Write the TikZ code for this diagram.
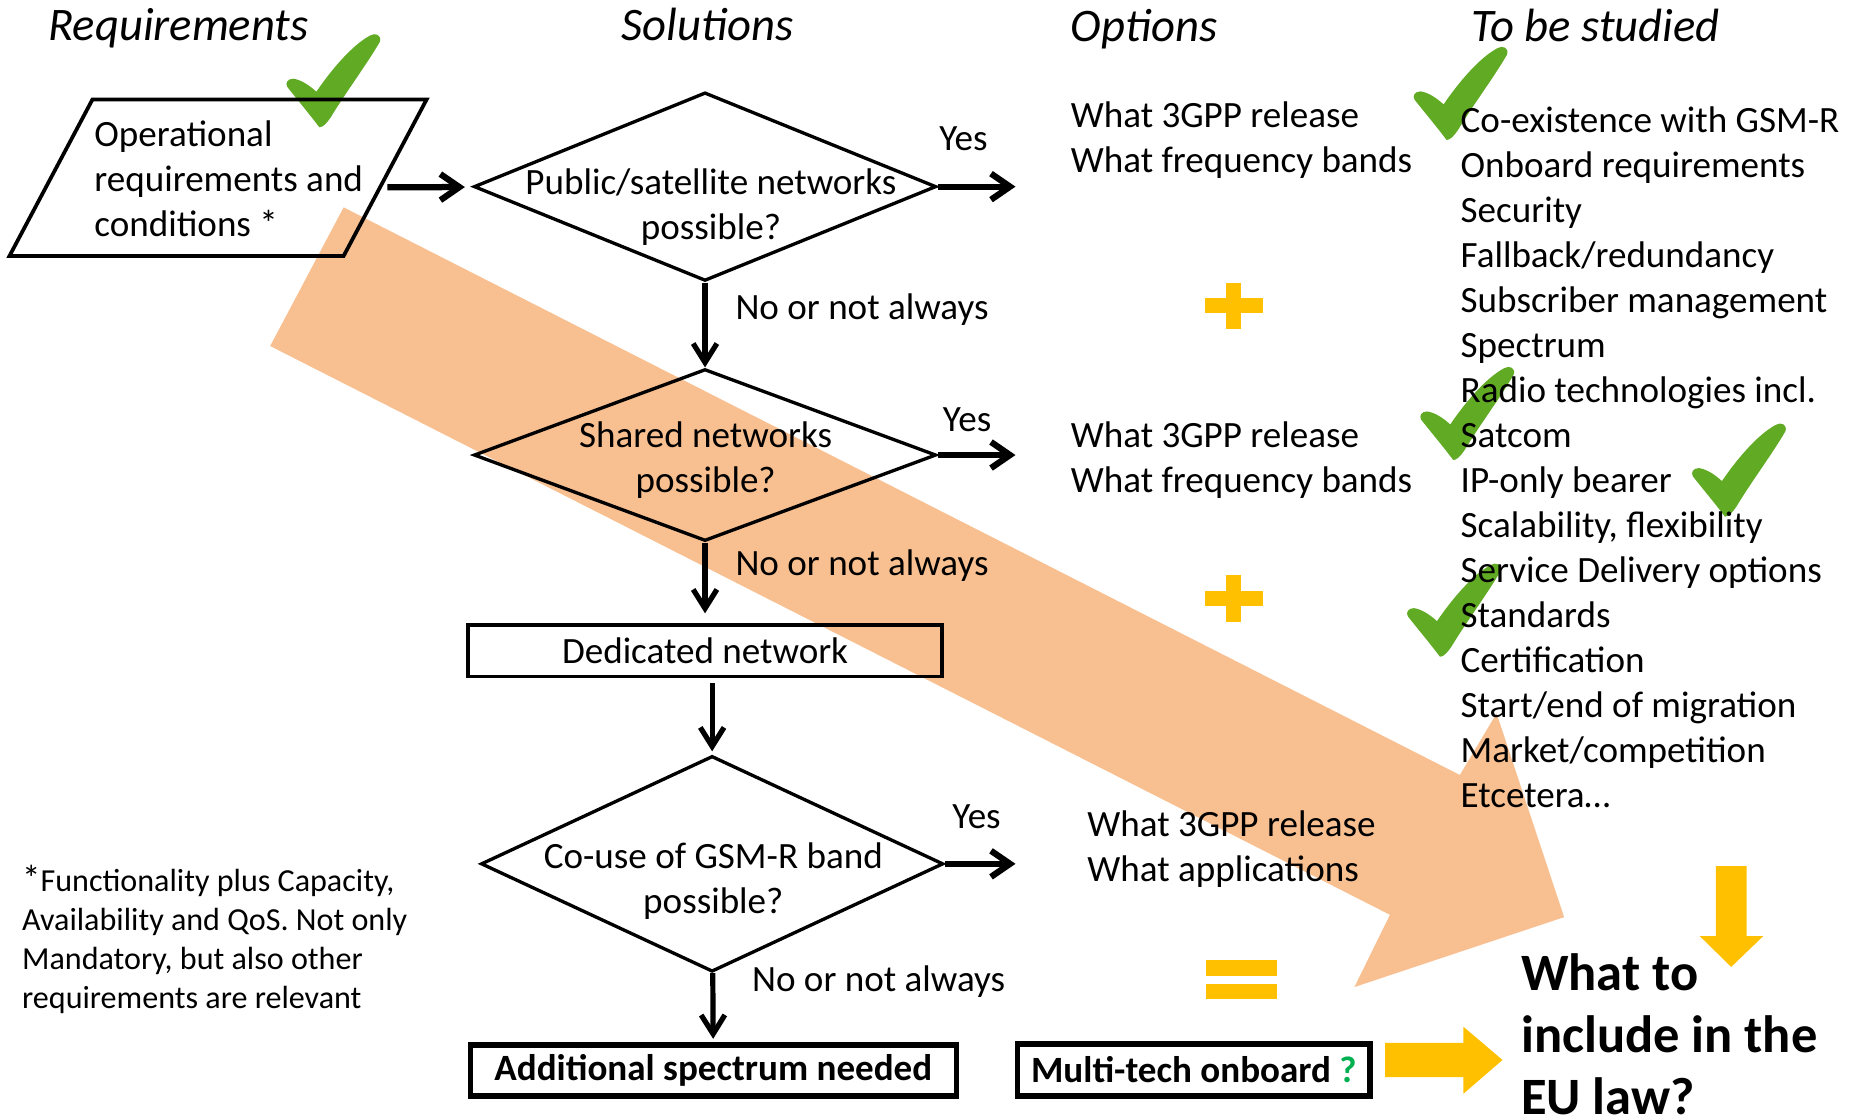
\documentclass[tikz,border=0pt]{standalone}
\usepackage{fontspec}
\setmainfont{Carlito}
\usetikzlibrary{arrows.meta,shapes.geometric}
\definecolor{orng}{RGB}{248,192,145}
\definecolor{ylw}{RGB}{255,192,0}
\definecolor{chkg}{RGB}{96,170,36}
\definecolor{qgrn}{RGB}{0,176,80}
\newcommand\myst{\rule{0pt}{7pt}}
\tikzset{
  chk/.pic={
    \fill[chkg] (0,0) .. controls (-9,-12) and (-20,-25) .. (-27,-34)
      .. controls (-29,-37) and (-27,-41) .. (-22,-41)
      .. controls (-15,-40) and (-8,-35) .. (-2.5,-30)
      .. controls (9,-47) and (27,-69) .. (43,-77.5)
      .. controls (47,-80) and (53,-78) .. (51,-72)
      .. controls (40,-53) and (22,-29) .. (10,-9)
      .. controls (6,-3) and (3,0) .. (0,0) -- cycle;
  }
}
\begin{document}
\begin{tikzpicture}[x=0.01cm,y=-0.01cm,
  txt/.style={inner sep=0pt, font=\fontsize{8.9}{10.8}\selectfont},
  btxt/.style={inner sep=0pt, font=\fontsize{8.9}{10.8}\selectfont\bfseries},
  hdr/.style={inner sep=0pt, anchor=base west, font=\fontsize{11.2}{13}\selectfont\itshape},
  dia/.style={draw, diamond, line width=0.8pt, inner sep=0pt, minimum width=3.9cm},
  arr/.style={line width=1.5pt, -{Straight Barb[length=1.6mm,width=2.2mm]}},
  varr/.style={line width=1.25pt, -{Straight Barb[length=1.6mm,width=2mm]}}
]
\useasboundingbox (0,0) rectangle (1568,944);

% big orange arrow
\fill[orng] (290,175) -- (1232,654) -- (1263,602) -- (1320,774) -- (1143,833) -- (1173,772) -- (228,292) -- cycle;

% green checks
\pic at (269.5,107.4) {chk};
\pic at (1220.8,118.1) {chk};
\pic at (1226.4,388.2) {chk};
\pic at (1455.7,436) {chk};
\pic at (1215.2,554.2) {chk};

% headers
\node[hdr] (h1) at (40,34) {Requirements};
\node[hdr] (h2) at (524,34) {Solutions};
\node[hdr] (h3) at (903,35) {Options};
\node[hdr] (h4) at (1241,35) {To be studied};

% requirements parallelogram
\coordinate (pTL) at (78,84);
\coordinate (pTR) at (360,84);
\coordinate (pBR) at (290,216);
\coordinate (pBL) at (8,216);
\coordinate (reqR) at (321,158);
\draw[line width=0.9pt] (pTL) -- (pTR) -- (pBR) -- (pBL) -- cycle;
\node[txt, anchor=north west, align=left] (req) at (79,97.9) {\myst Operational\\requirements and\\conditions *};

% diamonds
\node[dia, minimum height=1.59cm] (d1) at (595,157.5) {};
\node[txt, anchor=north, align=center] (d1t) at (600,138.4) {\myst Public/satellite networks\\possible?};
\node[dia, minimum height=1.45cm] (d2) at (595,384) {};
\node[txt, anchor=north, align=center] (d2t) at (595.5,352.4) {\myst Shared networks\\possible?};
\node[dia, minimum height=1.82cm] (d3) at (601,729) {};
\node[txt, anchor=north, align=center] (d3t) at (602,707.4) {\myst Co-use of GSM-R band\\possible?};

% boxes
\node[draw, line width=0.9pt, minimum width=4cm, minimum height=0.436cm, txt] (ded) at (595,549) {Dedicated network};
\node[draw, line width=1.3pt, minimum width=4.1cm, minimum height=0.43cm, btxt] (add) at (602,903.5) {Additional spectrum needed};
\node[draw, line width=1.3pt, minimum width=2.97cm, minimum height=0.44cm, btxt] (mt) at (1007.5,903) {Multi-tech onboard \textcolor{qgrn}{?}};

% connectors
\draw[arr, shorten <=0.6mm, shorten >=0.7mm] (reqR) -- (d1);
\coordinate (y1) at (857,157.5);
\coordinate (y2) at (857,384);
\coordinate (y3) at (857,729);
\draw[arr] (d1) -- (y1);
\draw[arr] (d2) -- (y2);
\draw[arr] (d3) -- (y3);
\draw[varr] (d1) -- (d2);
\draw[varr, shorten >=0.8mm] (d2) -- (ded);
\draw[varr, shorten <=0.4mm, shorten >=0.25mm] (ded.south -| d3.north) -- (d3);
\draw[varr, shorten >=0.3mm] (d3) -- (add);

% labels
\node[txt, anchor=base west] (yes1) at (792,127) {Yes};
\node[txt, anchor=base west] (yes2) at (795,364) {Yes};
\node[txt, anchor=base west] (yes3) at (803,699) {Yes};
\node[txt, anchor=base west] (no1) at (620,270) {No or not always};
\node[txt, anchor=base west] (no2) at (620,486) {No or not always};
\node[txt, anchor=base west] (no3) at (634,837) {No or not always};

% options
\node[txt, anchor=north west, align=left] (o1) at (903,82.4) {\myst What 3GPP release\\What frequency bands};
\node[txt, anchor=north west, align=left] (o2) at (903,352) {\myst What 3GPP release\\What frequency bands};
\node[txt, anchor=north west, align=left] (o3) at (917,680.4) {\myst What 3GPP release\\What applications};

% to be studied
\node[txt, anchor=north west, align=left] (study) at (1232,86.4) {\myst Co-existence with GSM-R\\Onboard requirements\\Security\\Fallback/redundancy\\Subscriber management\\Spectrum\\Radio technologies incl.\\Satcom\\IP-only bearer\\Scalability, flexibility\\Service Delivery options\\Standards\\Certification\\Start/end of migration\\Market/competition\\Etcetera…};

% plus and equal signs
\fill[ylw] (1017,251.5) rectangle (1066,264.5);
\fill[ylw] (1035,239) rectangle (1047,278);
\fill[ylw] (1017,498.5) rectangle (1066,511.5);
\fill[ylw] (1035,485) rectangle (1047,525);
\fill[ylw] (1018,810) rectangle (1078,824);
\fill[ylw] (1018,830) rectangle (1078,843);

% yellow arrows
\fill[ylw] (1169,880) -- (1235,880) -- (1235,866.5) -- (1268,894.5) -- (1235,923) -- (1235,909) -- (1169,909) -- cycle;
\fill[ylw] (1448,731) -- (1474,731) -- (1474,790) -- (1488,790) -- (1461,816) -- (1434.5,790) -- (1448,790) -- cycle;

% question
\node[anchor=north west, align=left, inner sep=0pt, font=\fontsize{12.6}{14.9}\selectfont\bfseries] (eu) at (1283,800) {\rule{0pt}{10pt}What to\\include in the\\EU law?};

% footnote
\node[anchor=north west, align=left, inner sep=0pt, font=\fontsize{7.7}{9.4}\selectfont] (fn) at (18,726.7) {\myst{\fontsize{8.9}{9.4}\selectfont *}Functionality plus Capacity,\\Availability and QoS. Not only\\Mandatory, but also other\\requirements are relevant};
\end{tikzpicture}
\end{document}
